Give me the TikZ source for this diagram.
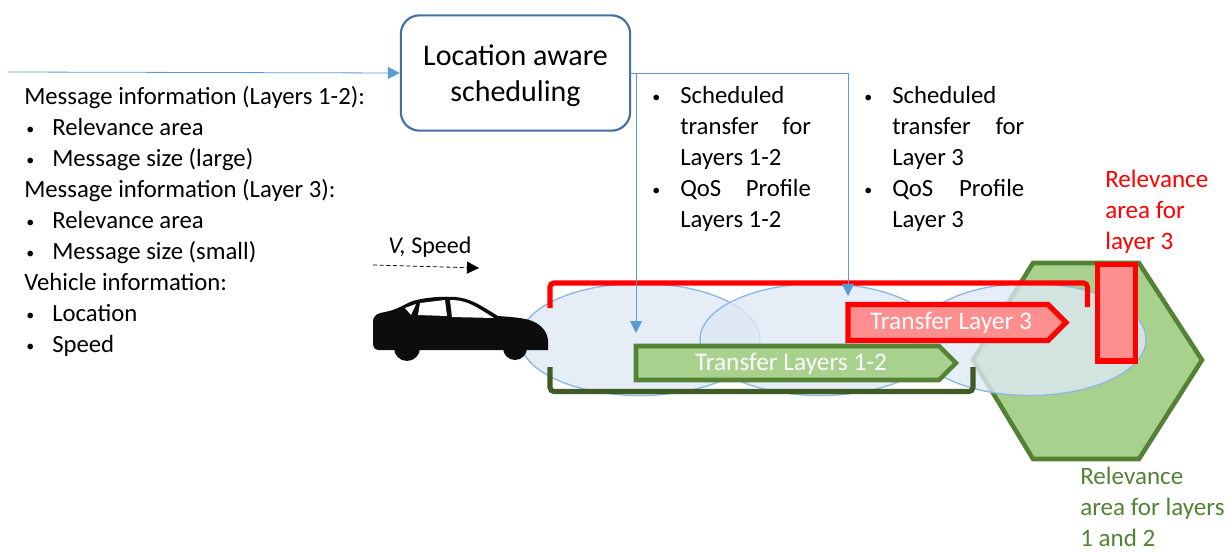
\documentclass[tikz,border=0pt]{standalone}
\usepackage{fontspec}
\setmainfont{Carlito}
\usetikzlibrary{arrows.meta}
\definecolor{flowblue}{HTML}{5B9BD5}
\definecolor{boxblue}{HTML}{41719C}
\definecolor{cellfill}{HTML}{DEE8F5}
\definecolor{cellline}{HTML}{8FB8E0}
\definecolor{hexfill}{HTML}{A9D18E}
\definecolor{hexline}{HTML}{548235}
\definecolor{darkgreen}{HTML}{3F5B26}
\definecolor{redfill}{HTML}{FF8F8F}
\newcommand{\bltmark}[1]{\makebox[#1][l]{\fontsize{12}{12}\selectfont\raisebox{0.8pt}{•}}}
\newcommand{\blt}[1]{\bltmark{21pt}#1}
\newcommand{\bltl}[1]{\hspace*{1.5pt}\bltmark{19.5pt}#1}
\newcommand{\spread}[2]{\makebox[98pt][s]{#1\hfill #2}}
\tikzset{
  x=0.75pt,y=-0.75pt,
  body/.style={inner sep=0pt,anchor=north west,align=left,font=\fontsize{18.55}{23.25}\selectfont},
  relevance/.style={inner sep=0pt,anchor=north west,align=left,font=\fontsize{18.8}{23.25}\selectfont},
  flow/.style={draw=flowblue,line width=0.6pt,-{Triangle[width=9pt,length=9pt]}},
  cell/.style={draw=cellline,line width=1pt,fill=cellfill,fill opacity=0.8},
  transferlabel/.style={inner sep=0pt,text=white,font=\fontsize{19}{22}\selectfont},
  redbracket/.style={draw=red,line width=3.8pt,rounded corners=3pt},
  greenbracket/.style={draw=darkgreen,line width=3.8pt,rounded corners=3pt},
  redshape/.style={draw=red,line width=3.8pt,fill=redfill,miter limit=10},
  greenshape/.style={draw=hexline,line width=3.4pt,fill=hexfill,miter limit=10},
}
\begin{document}
\begin{tikzpicture}
\useasboundingbox (0,0) rectangle (1231,552);

% coverage cells and relevance hexagon
\draw[greenshape] (973,360) -- (1033,263) -- (1139,263) -- (1202,360) -- (1139,459) -- (1033,459) -- cycle;
\path[cell] (640,339.5) ellipse [x radius=120,y radius=56];
\path[cell] (820,339.5) ellipse [x radius=120,y radius=56];
\path[cell] (1030,339.5) ellipse [x radius=116,y radius=56];

% brackets
\draw[redbracket] (550,308) -- (550,283) -- (1087.5,283) -- (1087.5,307);
\draw[greenbracket] (550,367) -- (550,391.5) -- (973,391.5) -- (973,367);

% transfer arrows and red area
\draw[greenshape] (636,346) -- (939,346) -- (956,363) -- (939,380) -- (636,380) -- cycle;
\node[transferlabel] (t12) at (791,364) {Transfer Layers 1-2};
\draw[redshape] (848,304.5) -- (1048,304.5) -- (1066,322.5) -- (1048,340.5) -- (848,340.5) -- cycle;
\node[transferlabel] (t3) at (951,322.5) {Transfer Layer 3};
\draw[redshape] (1097.5,264.5) rectangle (1135.5,361);

% car
\fill[black!95] (378,350) .. controls (373,349) and (373,346) .. (373,340)
  -- (373,322) .. controls (373,315) and (378,313) .. (385,312)
  .. controls (395,310) and (400,307) .. (410,302)
  .. controls (420,298) and (440,296) .. (455,297)
  .. controls (470,298) and (480,305) .. (498,316)
  .. controls (512,317) and (525,318) .. (532,321)
  .. controls (542,325) and (547,332) .. (548,340)
  -- (548,350) -- cycle;
\fill[black!95] (407,348) circle [radius=13];
\fill[black!95] (515,348) circle [radius=12];
\fill[white] (405,308) -- (416,304) -- (411,315) -- cycle;
\fill[white] (420,303) -- (445,300) -- (447,316) -- (418,315) -- cycle;
\fill[white] (450,300) .. controls (465,300) and (472,304) .. (494,318) -- (452,317) -- cycle;

% speed arrow
\coordinate (v0) at (373,265);
\coordinate (v1) at (479,268);
\draw[black,line width=0.6pt,dashed,dash pattern=on 3pt off 2pt,-{Triangle[width=9pt,length=9pt]}] (v0) -- (v1);
\node[inner sep=0pt,anchor=base west,font=\fontsize{18}{22}\selectfont] (vlabel) at (388,254) {\textit{V,} Speed};

% scheduler
\node[draw=boxblue,line width=1.6pt,fill=white,rounded corners=14pt,minimum width=172pt,minimum height=86.5pt,inner sep=0pt] (sched) at (515.5,73) {};
\node[inner sep=0pt,align=center,font=\fontsize{22.5}{27}\selectfont] (schedlabel) at (515.5,76) {Location aware\\scheduling};
\coordinate (src) at (8,72);
\coordinate (a12) at (636,333);
\coordinate (a3) at (848,296);
\draw[flow] (src) -- (sched.west);
\draw[flow] (sched.east) -| (a12);
\draw[flow] (sched.east) -| (a3);

% texts
\node[body] (info) at (24,86) {Message information (Layers 1-2):\\
\bltl{Relevance area}\\
\bltl{Message size (large)}\\
Message information (Layer 3):\\
\bltl{Relevance area}\\
\bltl{Message size (small)}\\
Vehicle information:\\
\bltl{Location}\\
\bltl{Speed}};
\node[body] (q12) at (652,86) {\blt{Scheduled}\\
\hspace*{21pt}\spread{transfer}{for}\\
\hspace*{21pt}Layers 1-2\\
\blt{\spread{QoS}{Profile}}\\
\hspace*{21pt}Layers 1-2};
\node[body] (q3) at (864,86) {\blt{Scheduled}\\
\hspace*{21pt}\makebox[99pt][s]{transfer\hfill for}\\
\hspace*{21pt}Layer 3\\
\blt{\makebox[99pt][s]{QoS\hfill Profile}}\\
\hspace*{21pt}Layer 3};
\node[relevance,text=red] (relred) at (1105,170) {Relevance\\area for\\layer 3};
\node[relevance,text=hexline] (relgreen) at (1080,467) {Relevance\\area for layers\\1 and 2};
\end{tikzpicture}
\end{document}
